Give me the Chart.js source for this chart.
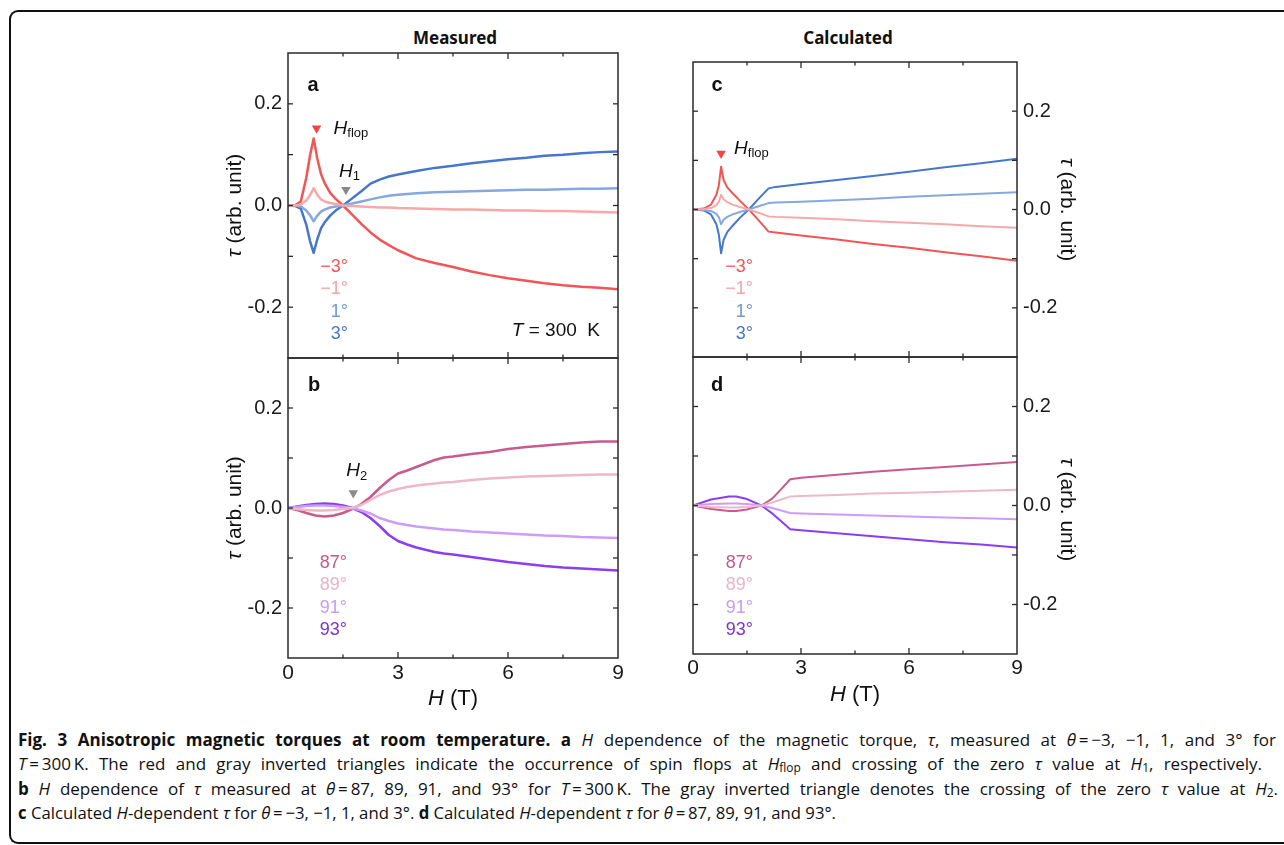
<!DOCTYPE html>
<html><head><meta charset="utf-8">
<script src="https://cdn.jsdelivr.net/npm/chart.js@4.4.1/dist/chart.umd.min.js"></script>
<style>
html,body{margin:0;padding:0;background:#fff;width:1284px;height:845px;overflow:hidden;position:relative;}
.frame{position:absolute;left:9px;top:10px;width:1320px;height:834px;border:2px solid #111;border-right:none;border-radius:9px 0 0 9px;box-sizing:border-box;}
canvas{position:absolute;}
.coltitle{position:absolute;font-family:'Noto Sans','Open Sans',sans-serif;font-weight:700;font-size:17px;transform:translate(-50%,-50%);white-space:nowrap;color:#111;}
.cap{position:absolute;left:18px;font-family:'Open Sans','Noto Sans',sans-serif;font-size:17px;line-height:22px;white-space:nowrap;transform-origin:0 50%;color:#111;display:inline-block;}
.cap sub{font-size:0.7em;line-height:0;vertical-align:-0.2em;}
</style></head>
<body>
<div class="frame"></div>
<div class="coltitle" style="left:455px;top:37px">Measured</div>
<div class="coltitle" style="left:848px;top:37px">Calculated</div>
<canvas id="ca" width="440" height="330" style="left:200px;top:40px"></canvas>
<canvas id="cb" width="440" height="370" style="left:200px;top:350px"></canvas>
<canvas id="cc" width="480" height="330" style="left:640px;top:40px"></canvas>
<canvas id="cd" width="480" height="370" style="left:640px;top:350px"></canvas>
<div class="cap" id="l1" style="top:729px"><b>Fig. 3 Anisotropic magnetic torques at room temperature. a</b> <i>H</i> dependence of the magnetic torque, <i>τ</i>, measured at <i>θ</i> = −3, −1, 1, and 3° for</div>
<div class="cap" id="l2" style="top:753px"><i>T</i> = 300 K. The red and gray inverted triangles indicate the occurrence of spin flops at <i>H</i><sub>flop</sub> and crossing of the zero <i>τ</i> value at <i>H</i><sub>1</sub>, respectively.</div>
<div class="cap" id="l3" style="top:778px"><b>b</b> <i>H</i> dependence of <i>τ</i> measured at <i>θ</i> = 87, 89, 91, and 93° for <i>T</i> = 300 K. The gray inverted triangle denotes the crossing of the zero <i>τ</i> value at <i>H</i><sub>2</sub>.</div>
<div class="cap" id="l4" style="top:802px"><b>c</b> Calculated <i>H</i>-dependent <i>τ</i> for <i>θ</i> = −3, −1, 1, and 3°. <b>d</b> Calculated <i>H</i>-dependent <i>τ</i> for <i>θ</i> = 87, 89, 91, and 93°.</div>
<script>
// ---------- axes ----------
const X_TICK_VALUES = [0, 1.5, 3, 4.5, 6, 7.5, 9];
const X_TICK_LABELS = [0, 3, 6, 9];
const Y_TICK_VALUES = [-0.3, -0.2, -0.1, 0, 0.1, 0.2, 0.3];
const Y_TICK_LABELS = [-0.2, 0, 0.2];

// ---------- panel a : measured, theta = -3, -1, 1, 3 ----------
const H_A = [0,0.2,0.35,0.5,0.6,0.7,0.8,0.9,1.0,1.15,1.3,1.5,1.75,2.0,2.25,2.5,2.75,3.0,3.5,4.0,4.5,5.0,5.5,6.0,6.5,7.0,7.5,8.0,8.5,9.0];
const A_M3 = [0,0.001,0.008,0.055,0.098,0.132,0.092,0.062,0.044,0.025,0.013,0.0,-0.018,-0.036,-0.053,-0.067,-0.078,-0.088,-0.104,-0.113,-0.121,-0.13,-0.137,-0.143,-0.148,-0.153,-0.157,-0.16,-0.162,-0.165];
const A_M1 = [0,0,0.002,0.01,0.02,0.034,0.021,0.012,0.008,0.005,0.003,0.0,-0.001,-0.002,-0.003,-0.004,-0.004,-0.005,-0.006,-0.007,-0.008,-0.008,-0.009,-0.01,-0.01,-0.011,-0.011,-0.012,-0.013,-0.014];
const A_P1 = [0,0,-0.002,-0.01,-0.019,-0.031,-0.02,-0.012,-0.008,-0.004,-0.002,0.0,0.004,0.008,0.012,0.016,0.019,0.021,0.024,0.026,0.027,0.028,0.029,0.03,0.031,0.031,0.032,0.033,0.033,0.034];
const A_P3 = [0,-0.001,-0.006,-0.038,-0.07,-0.093,-0.066,-0.045,-0.033,-0.02,-0.01,0.0,0.014,0.028,0.043,0.051,0.057,0.061,0.068,0.074,0.078,0.083,0.087,0.091,0.094,0.098,0.1,0.103,0.105,0.106];
const FLOP_A = [0.78, 0.152];
const H1_A = [1.58, 0.031];

// ---------- panel b : measured, theta = 87, 89, 91, 93 ----------
const H_B = [0,0.25,0.5,0.75,1.0,1.25,1.5,1.75,2.0,2.25,2.5,2.75,3.0,3.25,3.5,4.0,4.25,4.5,5.0,5.5,6.0,6.5,7.0,7.5,8.0,8.5,9.0];
const B_87 = [0,-0.004,-0.01,-0.015,-0.017,-0.015,-0.01,-0.002,0.008,0.022,0.04,0.056,0.069,0.075,0.082,0.096,0.101,0.103,0.108,0.112,0.118,0.122,0.125,0.128,0.131,0.133,0.133];
const B_89 = [0,-0.002,-0.004,-0.005,-0.005,-0.004,-0.002,0.0,0.006,0.016,0.026,0.033,0.038,0.042,0.045,0.049,0.051,0.052,0.056,0.059,0.061,0.063,0.064,0.065,0.066,0.067,0.067];
const B_91 = [0,0.002,0.004,0.005,0.005,0.004,0.002,0.0,-0.005,-0.011,-0.02,-0.026,-0.031,-0.034,-0.037,-0.041,-0.043,-0.044,-0.047,-0.049,-0.051,-0.053,-0.055,-0.056,-0.058,-0.059,-0.06];
const B_93 = [0,0.003,0.006,0.008,0.009,0.008,0.005,0.0,-0.008,-0.02,-0.036,-0.054,-0.066,-0.073,-0.079,-0.088,-0.091,-0.093,-0.098,-0.103,-0.108,-0.112,-0.116,-0.119,-0.121,-0.123,-0.125];
const H2_B = [1.78, 0.03];

// ---------- panel c : calculated, theta = -3, -1, 1, 3 ----------
const H_C = [0,0.3,0.5,0.65,0.72,0.78,0.85,0.95,1.1,1.3,1.55,1.8,2.1,2.3,3,4,5,6,7,8,9];
const C_M3 = [0,0.002,0.01,0.03,0.05,0.087,0.06,0.045,0.033,0.018,0.0,-0.02,-0.045,-0.047,-0.053,-0.061,-0.07,-0.078,-0.087,-0.095,-0.104];
const C_M1 = [0,0.001,0.003,0.009,0.016,0.03,0.021,0.015,0.01,0.005,0.0,-0.006,-0.014,-0.015,-0.017,-0.02,-0.024,-0.027,-0.03,-0.034,-0.037];
const C_P1 = [0,-0.001,-0.003,-0.009,-0.016,-0.03,-0.021,-0.015,-0.01,-0.005,0.0,0.006,0.013,0.014,0.016,0.019,0.022,0.026,0.029,0.032,0.035];
const C_P3 = [0,-0.002,-0.01,-0.03,-0.052,-0.089,-0.062,-0.046,-0.033,-0.017,0.0,0.02,0.043,0.046,0.052,0.06,0.068,0.077,0.086,0.094,0.103];
const FLOP_C = [0.78, 0.114];

// ---------- panel d : calculated, theta = 87, 89, 91, 93 ----------
const H_D = [0,0.5,1.0,1.2,1.5,1.9,2.2,2.45,2.7,3,4,5,6,7,8,9];
const D_87 = [0,-0.007,-0.011,-0.011,-0.008,0.0,0.014,0.033,0.053,0.056,0.062,0.068,0.073,0.078,0.083,0.088];
const D_89 = [0,-0.003,-0.004,-0.004,-0.003,0.0,0.006,0.012,0.018,0.019,0.021,0.024,0.026,0.028,0.03,0.032];
const D_91 = [0,0.003,0.004,0.004,0.003,0.0,-0.005,-0.01,-0.015,-0.016,-0.018,-0.02,-0.022,-0.024,-0.026,-0.028];
const D_93 = [0,0.012,0.018,0.018,0.013,0.0,-0.016,-0.032,-0.048,-0.05,-0.056,-0.062,-0.068,-0.074,-0.079,-0.085];

const LABELS_AC = ['−3°','−1°','1°','3°'];
const LABELS_BD = ['87°','89°','91°','93°'];

// ---------- styles ----------
const COL = {m3:'#f25555', m1:'#f6a9a9', p1:'#86a8de', p3:'#4677cc',
             d87:'#c95b8c', d89:'#eeb7cb', d91:'#cc9df8', d93:'#8b3df0'};
const TXT_AC = ['#f25555','#f5a3a3','#6f98d8','#4677cc'];
const TXT_BD = ['#c4588a','#ebb3c8','#c99af5','#7b33d6'];
const FONT = "'Liberation Sans', Arial, sans-serif";
Chart.defaults.font.family = FONT;
Chart.defaults.color = '#1a1a1a';

function pts(hs, vs){ return hs.map((h,i)=>({x:h, y:vs[i]})); }
function lineDs(hs, vs, color, w){
  return {type:'line', data:pts(hs,vs), borderColor:color, backgroundColor:color, borderWidth:w,
          pointRadius:0, tension:0, fill:false, borderJoinStyle:'round', borderCapStyle:'round'};
}
function markDs(p, color){
  return {type:'scatter', data:[{x:p[0], y:p[1]}], pointStyle:'triangle', rotation:180, pointRadius:5.5,
          backgroundColor:color, borderColor:color, borderWidth:0, showLine:false};
}

function drawRich(ctx, segs, x, y, align, baseSize){
  let w = 0;
  const items = segs.map(s=>{
    const size = s.size || baseSize;
    const f = (s.i?'italic ':'') + (s.b?'bold ':'') + size + 'px ' + FONT;
    ctx.font = f;
    const ww = ctx.measureText(s.t).width;
    const it = {s, f, ww}; w += ww; return it;
  });
  let cx = align==='center' ? x - w/2 : (align==='right' ? x - w : x);
  ctx.textAlign = 'left'; ctx.textBaseline = 'middle';
  items.forEach(it=>{ ctx.font = it.f; ctx.fillStyle = it.s.c || ctx.fillStyle; ctx.fillText(it.s.t, cx, y + (it.s.dy||0)); cx += it.ww; });
}

const decor = {
  id:'decor',
  afterDatasetsDraw(chart, args, o){
    const ctx = chart.ctx, ca = chart.chartArea, xs = chart.scales.x, ys = chart.scales.y;
    ctx.save();
    ctx.strokeStyle = '#2a2a2a';
    ctx.lineWidth = 1.5;
    ctx.strokeRect(ca.left, ca.top, ca.right-ca.left, ca.bottom-ca.top);
    ctx.lineWidth = 1.3;
    const seg = (x1,y1,x2,y2)=>{ctx.beginPath();ctx.moveTo(x1,y1);ctx.lineTo(x2,y2);ctx.stroke();};
    X_TICK_VALUES.forEach(v=>{
      if (v<=0 || v>=9) return;
      const p = xs.getPixelForValue(v), L = X_TICK_LABELS.includes(v) ? 6 : 3.5;
      seg(p, ca.top, p, ca.top+L); seg(p, ca.bottom, p, ca.bottom-L);
    });
    Y_TICK_VALUES.forEach(v=>{
      if (Math.abs(v)>=0.29) return;
      const p = ys.getPixelForValue(v), L = 5;
      seg(ca.left, p, ca.left+L, p); seg(ca.right, p, ca.right-L, p);
    });
    ctx.fillStyle = '#111';
    drawRich(ctx, [{t:o.letter, b:1}], ca.left + o.letterPos[0], ca.top + o.letterPos[1], 'center', 20);
    o.labels.forEach((t,i)=>{
      ctx.fillStyle = o.labelColors[i];
      drawRich(ctx, [{t}], ca.left + o.labelPos[0], ca.top + o.labelPos[1] + i*22.5, 'right', 18);
    });
    (o.anchors||[]).forEach(a=>{
      const px = xs.getPixelForValue(a.at[0]) + a.dx, py = ys.getPixelForValue(a.at[1]) + a.dy;
      ctx.fillStyle = '#111';
      drawRich(ctx, [{t:'H', i:1}, {t:a.sub, size:13, dy:5}], px, py, 'left', 19);
    });
    if (o.temp){
      ctx.fillStyle = '#111';
      drawRich(ctx, [{t:'T', i:1}, {t:' = 300  K'}], ca.right - 18, ca.bottom - 27, 'right', 19);
    }
    const ymid = (ca.top + ca.bottom)/2;
    ctx.fillStyle = '#111';
    ctx.save();
    if (o.ySide === 'left'){ ctx.translate(ca.left - 53, ymid + o.yTitleDy); ctx.rotate(-Math.PI/2); }
    else { ctx.translate(ca.right + 50, ymid + o.yTitleDy); ctx.rotate(Math.PI/2); }
    drawRich(ctx, [{t:'τ', i:1}, {t:' (arb. unit)'}], 0, 0, 'center', 21);
    ctx.restore();
    if (o.xTitle){
      drawRich(ctx, [{t:'H', i:1}, {t:' (T)'}], (ca.left+ca.right)/2, ca.bottom + o.xTitleDy, 'center', 22);
    }
    ctx.restore();
  }
};

function makePanel(id, cfg){
  return new Chart(document.getElementById(id), {
    type:'line',
    data:{datasets:cfg.datasets},
    options:{
      responsive:false, animation:false, devicePixelRatio:1,
      layout:{padding:cfg.padding},
      plugins:{legend:{display:false}, tooltip:{enabled:false}, decor:cfg.decor},
      scales:{
        x:{type:'linear', min:0, max:9, display:cfg.showX, position:'bottom',
           afterBuildTicks:s=>{ s.ticks = X_TICK_VALUES.map(v=>({value:v})); },
           ticks:{callback:v=> X_TICK_LABELS.includes(v) ? String(v) : null, font:{size:21}, color:'#1a1a1a',
                  padding:cfg.xPad, maxRotation:0, autoSkip:false},
           grid:{display:false, drawTicks:false}, border:{display:false},
           afterFit:s=>{ s.height = cfg.xHeight || 0; s.paddingLeft = 0; s.paddingRight = 0; }},
        y:{type:'linear', min:-0.3, max:0.3, position:cfg.ySide,
           afterBuildTicks:s=>{ s.ticks = Y_TICK_VALUES.map(v=>({value:v})); },
           ticks:{callback:v=> Y_TICK_LABELS.some(l=>Math.abs(l-v)<1e-9) ? (Math.abs(v)<1e-9 ? '0.0' : v.toFixed(1)) : null,
                  font:{size:20}, color:'#1a1a1a', padding:6, autoSkip:false},
           grid:{display:false, drawTicks:false}, border:{display:false},
           afterFit:s=>{ s.width = cfg.yWidth; s.paddingTop = 0; s.paddingBottom = 0; }}
      }
    },
    plugins:[decor]
  });
}

const WM = 2.5, WC = 2.0;
makePanel('ca', {
  padding:{top:13, right:22, bottom:12, left:0}, yWidth:88, ySide:'left', showX:false,
  datasets:[lineDs(H_A,A_M1,COL.m1,WM), lineDs(H_A,A_P1,COL.p1,WM), lineDs(H_A,A_M3,COL.m3,WM), lineDs(H_A,A_P3,COL.p3,WM),
            markDs(FLOP_A,'#f04545'), markDs(H1_A,'#8a8a8a')],
  decor:{letter:'a', letterPos:[25,32], labels:LABELS_AC, labelColors:TXT_AC, labelPos:[60,214], ySide:'left', yTitleDy:0,
         anchors:[{at:FLOP_A, dx:17, dy:0, sub:'flop'}, {at:H1_A, dx:-7, dy:-18, sub:'1'}], temp:true}
});
makePanel('cb', {
  padding:{top:8, right:22, bottom:0, left:0}, yWidth:88, ySide:'left', showX:true, xHeight:62, xPad:3,
  datasets:[lineDs(H_B,B_89,COL.d89,WM), lineDs(H_B,B_91,COL.d91,WM), lineDs(H_B,B_87,COL.d87,WM), lineDs(H_B,B_93,COL.d93,WM),
            markDs(H2_B,'#8a8a8a')],
  decor:{letter:'b', letterPos:[26,27], labels:LABELS_BD, labelColors:TXT_BD, labelPos:[59,205], ySide:'left', yTitleDy:0,
         anchors:[{at:H2_B, dx:-7, dy:-22, sub:'2'}], xTitle:true, xTitleDy:41}
});
makePanel('cc', {
  padding:{top:22, right:0, bottom:13, left:53}, yWidth:103, ySide:'right', showX:false,
  datasets:[lineDs(H_C,C_M1,COL.m1,WC), lineDs(H_C,C_P1,COL.p1,WC), lineDs(H_C,C_M3,COL.m3,WC), lineDs(H_C,C_P3,COL.p3,WC),
            markDs(FLOP_C,'#f04545')],
  decor:{letter:'c', letterPos:[24,23], labels:LABELS_AC, labelColors:TXT_AC, labelPos:[60,205], ySide:'right', yTitleDy:0,
         anchors:[{at:FLOP_C, dx:13, dy:-5, sub:'flop'}]}
});
makePanel('cd', {
  padding:{top:7, right:0, bottom:0, left:53}, yWidth:103, ySide:'right', showX:true, xHeight:66, xPad:2,
  datasets:[lineDs(H_D,D_89,COL.d89,WC), lineDs(H_D,D_91,COL.d91,WC), lineDs(H_D,D_87,COL.d87,WC), lineDs(H_D,D_93,COL.d93,WC)],
  decor:{letter:'d', letterPos:[24,28], labels:LABELS_BD, labelColors:TXT_BD, labelPos:[60,206], ySide:'right', yTitleDy:4,
         xTitle:true, xTitleDy:41}
});

// caption: tighten "=" spacing, justify the three full lines, fit the last line
const CAP_TARGETS = {l1:1258, l2:1244, l3:1260, l4:818};
function tightenEquals(el){
  const walker = document.createTreeWalker(el, NodeFilter.SHOW_TEXT);
  let n; while ((n = walker.nextNode())) {
    n.nodeValue = n.nodeValue.replace(/ = /g, '\u2009=\u2009').replace(/300 K/g, '300\u2009K');
  }
}
Object.keys(CAP_TARGETS).forEach(id=>tightenEquals(document.getElementById(id)));
function fitCaption(){
  Object.keys(CAP_TARGETS).forEach(id=>{
    const el = document.getElementById(id);
    el.style.transform = 'none'; el.style.wordSpacing = '0px';
    const w = el.getBoundingClientRect().width;
    const t = CAP_TARGETS[id];
    const spaces = (el.textContent.match(/ /g) || []).length;
    if (id !== 'l4' && w < t && spaces) el.style.wordSpacing = ((t - w)/spaces) + 'px';
    else el.style.transform = 'scaleX(' + (t/w) + ')';
  });
}
fitCaption();
if (document.fonts && document.fonts.ready) document.fonts.ready.then(fitCaption);
</script>
</body></html>
